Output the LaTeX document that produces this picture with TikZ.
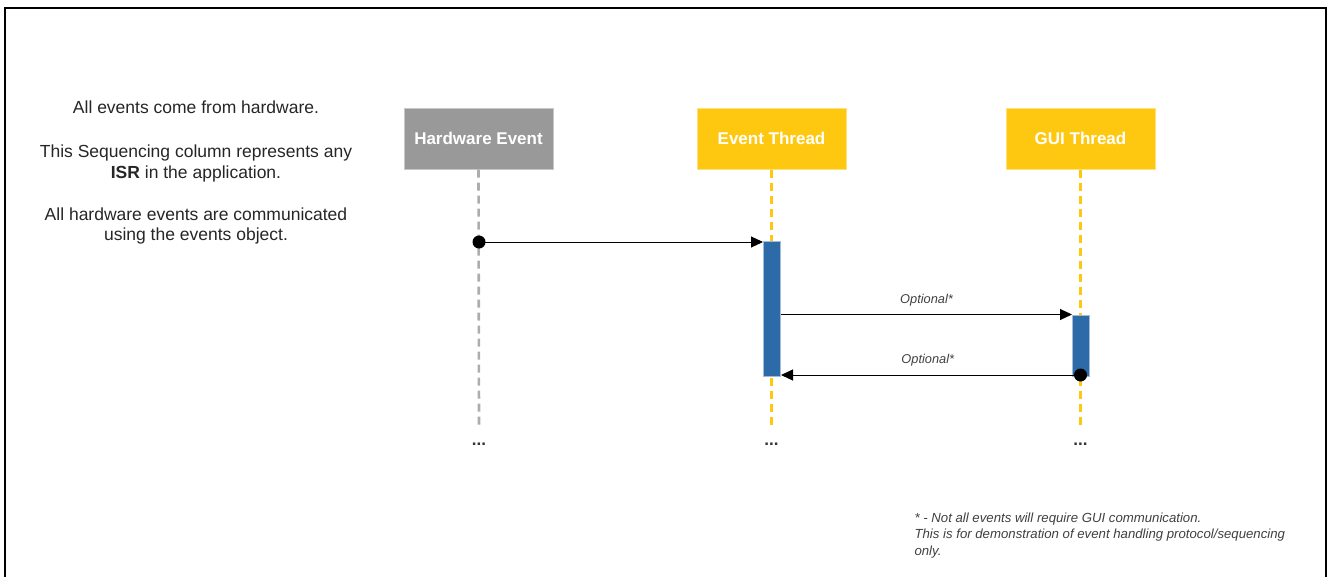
\documentclass[tikz,border=0pt]{standalone}
\usepackage{fontspec}
\setmainfont{Liberation Sans}
\usetikzlibrary{arrows.meta,positioning}
\definecolor{hwgray}{RGB}{153,153,153}
\definecolor{thryellow}{RGB}{255,200,16}
\definecolor{actblue}{RGB}{45,106,168}
\tikzset{
  header/.style={draw=#1!55, fill=#1, text=white, line width=1pt,
    font=\bfseries\fontsize{17}{20}\selectfont, minimum width=149pt, minimum height=61pt},
  lifeline/.style={draw=#1, line width=2.6pt, dash pattern=on 8pt off 5pt},
  actbar/.style={fill=actblue, draw=actblue!45, line width=1pt, minimum width=17pt, inner sep=0pt},
  msg/.style={-{Triangle[length=12pt,width=11pt]}, line width=1pt},
  sdot/.style={circle, fill=black, inner sep=0pt, minimum size=13pt},
  more/.style={font=\bfseries\fontsize{17}{20}\selectfont, text=black!80},
  smalltxt/.style={font=\itshape\fontsize{12.8}{16.5}\selectfont, text=black!75}
}
\begin{document}
\begin{tikzpicture}[x=1pt, y=-1pt]
  \useasboundingbox (0,0) rectangle (1328,576);
  % Frame
  \draw[line width=2.2pt] (5,8) rectangle (1326,600);

  % Note on the left
  \node (note) [align=center, anchor=north, font=\fontsize{17.5}{20.4}\selectfont, text=black!85] at (196,97)
    {All events come from hardware.\\[24pt]
     This Sequencing column represents any\\
     \textbf{ISR} in the application.\\[22pt]
     All hardware events are communicated\\
     using the events object.};

  % Participants
  \node (hw)  [header=hwgray]    at (478.5,138.5) {Hardware Event};
  \node (evt) [header=thryellow] at (771.5,138.5) {Event Thread};
  \node (gui) [header=thryellow] at (1080.5,138.5) {GUI Thread};

  % Lifelines
  \coordinate (hwend)  at (479,425);
  \coordinate (evtend) at (771.5,425);
  \coordinate (guiend) at (1080.5,425);
  \draw[lifeline=hwgray!80] (hw.south) -- (hwend);
  \draw[lifeline=thryellow] (evt.south) -- (evtend);
  \draw[lifeline=thryellow] (gui.south) -- (guiend);
  \node (hwmore)  [more] at (479,444) {...};
  \node (evtmore) [more] at (771.5,444) {...};
  \node (guimore) [more] at (1080.5,444) {...};

  % Activation bars
  \node (evbar)  [actbar, minimum height=135pt] at (772,308.5) {};
  \node (guibar) [actbar, minimum height=61pt]  at (1081,345.5) {};

  % Messages
  \node (hwdot)  [sdot] at (479,242) {};
  \node (guidot) [sdot] at (1080.5,375) {};
  \draw[msg] (hwdot.center) -- (hwdot -| evbar.west);
  \draw[msg] (evbar.east |- guibar.north) -- (guibar.north west)
    node (opt1) [midway, above=5pt, smalltxt] {Optional*};
  \draw[msg] (guidot.center) -- (guidot -| evbar.east)
    node (opt2) [pos=0.51, above=5pt, smalltxt] {Optional*};

  % Footnote
  \node (fnote) [anchor=north west, align=left, smalltxt, font=\itshape\fontsize{13.2}{16.5}\selectfont] at (911,509)
    {* - Not all events will require GUI communication.\\
     This is for demonstration of event handling protocol/sequencing\\
     only.};
\end{tikzpicture}
\end{document}
